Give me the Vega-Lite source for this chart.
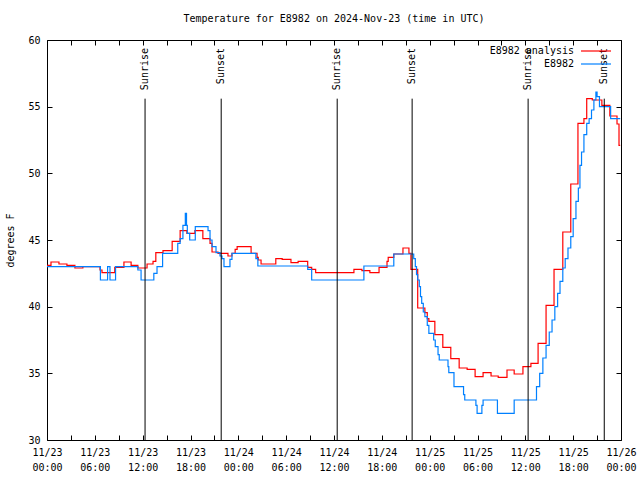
{
  "$schema": "https://vega.github.io/schema/vega-lite/v6.json",
  "width": 574,
  "height": 400,
  "autosize": {"type": "none"},
  "padding": {"left": 47, "top": 40, "right": 19, "bottom": 40},
  "title": {"text": "Temperature for E8982 on 2024-Nov-23 (time in UTC)", "font": "DejaVu Sans Mono", "fontSize": 10, "fontWeight": "normal", "color": "black", "anchor": "middle", "offset": 11},
  "config": {
    "view": {"stroke": "black", "strokeWidth": 1},
    "font": "DejaVu Sans Mono",
    "axis": {"labelFont": "DejaVu Sans Mono", "labelFontSize": 10, "labelColor": "black", "tickColor": "black", "domain": false, "grid": false, "titleFont": "DejaVu Sans Mono", "titleFontSize": 10, "titleFontWeight": "normal", "titleColor": "black"}
  },
  "datasets": {
    "temps": [
      {"s": "E8982 analysis", "h": 0, "t": 43.1},
      {"s": "E8982 analysis", "h": 0.5, "t": 43.35},
      {"s": "E8982 analysis", "h": 1.5, "t": 43.2},
      {"s": "E8982 analysis", "h": 2.5, "t": 43.1},
      {"s": "E8982 analysis", "h": 3.5, "t": 42.9},
      {"s": "E8982 analysis", "h": 4.5, "t": 43.0},
      {"s": "E8982 analysis", "h": 6.65, "t": 42.75},
      {"s": "E8982 analysis", "h": 6.9, "t": 42.55},
      {"s": "E8982 analysis", "h": 8.5, "t": 42.95},
      {"s": "E8982 analysis", "h": 9.65, "t": 43.35},
      {"s": "E8982 analysis", "h": 10.55, "t": 43.1},
      {"s": "E8982 analysis", "h": 11.4, "t": 42.9},
      {"s": "E8982 analysis", "h": 12.55, "t": 43.2},
      {"s": "E8982 analysis", "h": 13.3, "t": 43.4},
      {"s": "E8982 analysis", "h": 13.65, "t": 44.05},
      {"s": "E8982 analysis", "h": 14.55, "t": 44.2},
      {"s": "E8982 analysis", "h": 15.7, "t": 44.9},
      {"s": "E8982 analysis", "h": 16.7, "t": 45.7},
      {"s": "E8982 analysis", "h": 17.55, "t": 45.5},
      {"s": "E8982 analysis", "h": 18.55, "t": 45.7},
      {"s": "E8982 analysis", "h": 19.55, "t": 45.1},
      {"s": "E8982 analysis", "h": 20.45, "t": 44.75},
      {"s": "E8982 analysis", "h": 20.7, "t": 44.1},
      {"s": "E8982 analysis", "h": 21.45, "t": 44.0},
      {"s": "E8982 analysis", "h": 22.7, "t": 43.8},
      {"s": "E8982 analysis", "h": 23.2, "t": 44.0},
      {"s": "E8982 analysis", "h": 23.6, "t": 44.3},
      {"s": "E8982 analysis", "h": 23.85, "t": 44.5},
      {"s": "E8982 analysis", "h": 25.6, "t": 44.0},
      {"s": "E8982 analysis", "h": 26.35, "t": 43.7},
      {"s": "E8982 analysis", "h": 26.5, "t": 43.5},
      {"s": "E8982 analysis", "h": 26.85, "t": 43.2},
      {"s": "E8982 analysis", "h": 28.7, "t": 43.6},
      {"s": "E8982 analysis", "h": 29.5, "t": 43.55},
      {"s": "E8982 analysis", "h": 30.6, "t": 43.3},
      {"s": "E8982 analysis", "h": 31.5, "t": 43.4},
      {"s": "E8982 analysis", "h": 32.7, "t": 42.95},
      {"s": "E8982 analysis", "h": 33.2, "t": 42.8},
      {"s": "E8982 analysis", "h": 33.7, "t": 42.55},
      {"s": "E8982 analysis", "h": 38.5, "t": 42.8},
      {"s": "E8982 analysis", "h": 39.5, "t": 42.7},
      {"s": "E8982 analysis", "h": 40.5, "t": 42.55},
      {"s": "E8982 analysis", "h": 41.65, "t": 42.95},
      {"s": "E8982 analysis", "h": 42.65, "t": 43.4},
      {"s": "E8982 analysis", "h": 42.8, "t": 43.7},
      {"s": "E8982 analysis", "h": 43.5, "t": 43.95},
      {"s": "E8982 analysis", "h": 44.65, "t": 44.4},
      {"s": "E8982 analysis", "h": 45.4, "t": 44.0},
      {"s": "E8982 analysis", "h": 45.65, "t": 42.8},
      {"s": "E8982 analysis", "h": 46.5, "t": 39.9},
      {"s": "E8982 analysis", "h": 47.4, "t": 39.55},
      {"s": "E8982 analysis", "h": 47.7, "t": 39.1},
      {"s": "E8982 analysis", "h": 47.9, "t": 38.9},
      {"s": "E8982 analysis", "h": 48.65, "t": 37.9},
      {"s": "E8982 analysis", "h": 49.65, "t": 36.95},
      {"s": "E8982 analysis", "h": 50.65, "t": 36.1},
      {"s": "E8982 analysis", "h": 51.7, "t": 35.4},
      {"s": "E8982 analysis", "h": 52.7, "t": 35.3},
      {"s": "E8982 analysis", "h": 53.7, "t": 34.75},
      {"s": "E8982 analysis", "h": 54.7, "t": 35.05},
      {"s": "E8982 analysis", "h": 55.7, "t": 34.8},
      {"s": "E8982 analysis", "h": 56.6, "t": 34.7},
      {"s": "E8982 analysis", "h": 57.7, "t": 35.25},
      {"s": "E8982 analysis", "h": 58.6, "t": 34.95},
      {"s": "E8982 analysis", "h": 59.7, "t": 35.5},
      {"s": "E8982 analysis", "h": 60.7, "t": 35.75},
      {"s": "E8982 analysis", "h": 61.6, "t": 37.25},
      {"s": "E8982 analysis", "h": 62.6, "t": 40.1},
      {"s": "E8982 analysis", "h": 63.6, "t": 42.8},
      {"s": "E8982 analysis", "h": 64.7, "t": 45.6},
      {"s": "E8982 analysis", "h": 65.7, "t": 49.2},
      {"s": "E8982 analysis", "h": 66.6, "t": 53.75},
      {"s": "E8982 analysis", "h": 67.35, "t": 54.1},
      {"s": "E8982 analysis", "h": 67.7, "t": 55.6},
      {"s": "E8982 analysis", "h": 68.4, "t": 55.5},
      {"s": "E8982 analysis", "h": 69.6, "t": 55.1},
      {"s": "E8982 analysis", "h": 70.6, "t": 54.3},
      {"s": "E8982 analysis", "h": 71.5, "t": 53.7},
      {"s": "E8982 analysis", "h": 71.75, "t": 52.1},
      {"s": "E8982 analysis", "h": 71.9, "t": 52.1},
      {"s": "E8982", "h": 0, "t": 43.0},
      {"s": "E8982", "h": 6.7, "t": 42.0},
      {"s": "E8982", "h": 7.6, "t": 43.0},
      {"s": "E8982", "h": 7.9, "t": 42.0},
      {"s": "E8982", "h": 8.6, "t": 43.0},
      {"s": "E8982", "h": 11.4, "t": 42.75},
      {"s": "E8982", "h": 11.8, "t": 42.0},
      {"s": "E8982", "h": 13.4, "t": 42.5},
      {"s": "E8982", "h": 13.8, "t": 43.0},
      {"s": "E8982", "h": 14.5, "t": 44.0},
      {"s": "E8982", "h": 16.4, "t": 44.75},
      {"s": "E8982", "h": 16.7, "t": 45.1},
      {"s": "E8982", "h": 17.05, "t": 46.1},
      {"s": "E8982", "h": 17.35, "t": 47.0},
      {"s": "E8982", "h": 17.5, "t": 46.1},
      {"s": "E8982", "h": 17.6, "t": 45.5},
      {"s": "E8982", "h": 17.9, "t": 45.0},
      {"s": "E8982", "h": 18.6, "t": 46.0},
      {"s": "E8982", "h": 20.2, "t": 45.7},
      {"s": "E8982", "h": 20.45, "t": 45.0},
      {"s": "E8982", "h": 20.7, "t": 44.5},
      {"s": "E8982", "h": 21.2, "t": 44.05},
      {"s": "E8982", "h": 21.7, "t": 43.8},
      {"s": "E8982", "h": 21.95, "t": 43.6},
      {"s": "E8982", "h": 22.2, "t": 43.0},
      {"s": "E8982", "h": 22.95, "t": 43.55},
      {"s": "E8982", "h": 23.2, "t": 44.0},
      {"s": "E8982", "h": 26.2, "t": 43.6},
      {"s": "E8982", "h": 26.45, "t": 43.05},
      {"s": "E8982", "h": 32.7, "t": 42.8},
      {"s": "E8982", "h": 33.2, "t": 42.0},
      {"s": "E8982", "h": 39.75, "t": 43.05},
      {"s": "E8982", "h": 43.5, "t": 43.95},
      {"s": "E8982", "h": 46.0, "t": 43.6},
      {"s": "E8982", "h": 46.2, "t": 43.0},
      {"s": "E8982", "h": 46.35, "t": 42.4},
      {"s": "E8982", "h": 46.5, "t": 42.0},
      {"s": "E8982", "h": 46.7, "t": 41.5},
      {"s": "E8982", "h": 46.85, "t": 40.75},
      {"s": "E8982", "h": 47.0, "t": 40.25},
      {"s": "E8982", "h": 47.2, "t": 39.6},
      {"s": "E8982", "h": 47.4, "t": 39.25},
      {"s": "E8982", "h": 47.7, "t": 38.6},
      {"s": "E8982", "h": 47.9, "t": 38.0},
      {"s": "E8982", "h": 48.5, "t": 37.5},
      {"s": "E8982", "h": 48.7, "t": 37.0},
      {"s": "E8982", "h": 49.05, "t": 36.4},
      {"s": "E8982", "h": 49.2, "t": 36.0},
      {"s": "E8982", "h": 50.3, "t": 35.5},
      {"s": "E8982", "h": 50.4, "t": 35.05},
      {"s": "E8982", "h": 51.05, "t": 34.0},
      {"s": "E8982", "h": 52.25, "t": 33.4},
      {"s": "E8982", "h": 52.4, "t": 33.0},
      {"s": "E8982", "h": 53.8, "t": 32.6},
      {"s": "E8982", "h": 53.95, "t": 32.0},
      {"s": "E8982", "h": 54.55, "t": 32.6},
      {"s": "E8982", "h": 54.7, "t": 33.0},
      {"s": "E8982", "h": 56.5, "t": 32.0},
      {"s": "E8982", "h": 58.6, "t": 33.0},
      {"s": "E8982", "h": 61.4, "t": 34.0},
      {"s": "E8982", "h": 61.8, "t": 35.0},
      {"s": "E8982", "h": 62.2, "t": 36.15},
      {"s": "E8982", "h": 62.6, "t": 37.1},
      {"s": "E8982", "h": 63.0, "t": 38.1},
      {"s": "E8982", "h": 63.35, "t": 39.0},
      {"s": "E8982", "h": 63.7, "t": 40.0},
      {"s": "E8982", "h": 64.05, "t": 41.0},
      {"s": "E8982", "h": 64.35, "t": 41.9},
      {"s": "E8982", "h": 64.7, "t": 42.9},
      {"s": "E8982", "h": 65.0, "t": 43.6},
      {"s": "E8982", "h": 65.35, "t": 44.4},
      {"s": "E8982", "h": 65.7, "t": 45.25},
      {"s": "E8982", "h": 66.0, "t": 46.6},
      {"s": "E8982", "h": 66.35, "t": 47.9},
      {"s": "E8982", "h": 66.65, "t": 48.9},
      {"s": "E8982", "h": 66.85, "t": 50.6},
      {"s": "E8982", "h": 67.05, "t": 51.6},
      {"s": "E8982", "h": 67.35, "t": 52.9},
      {"s": "E8982", "h": 67.7, "t": 53.75},
      {"s": "E8982", "h": 68.0, "t": 54.1},
      {"s": "E8982", "h": 68.3, "t": 54.75},
      {"s": "E8982", "h": 68.6, "t": 55.5},
      {"s": "E8982", "h": 68.85, "t": 56.1},
      {"s": "E8982", "h": 69.0, "t": 55.75},
      {"s": "E8982", "h": 69.3, "t": 55.0},
      {"s": "E8982", "h": 70.7, "t": 54.1},
      {"s": "E8982", "h": 71.9, "t": 54.1}
    ],
    "sun": [
      {"h": 12.3, "event": "Sunrise"},
      {"h": 21.85, "event": "Sunset"},
      {"h": 36.4, "event": "Sunrise"},
      {"h": 45.8, "event": "Sunset"},
      {"h": 60.35, "event": "Sunrise"},
      {"h": 69.9, "event": "Sunset"}
    ]
  },
  "layer": [
    {
      "data": {"name": "temps"},
      "mark": {"type": "line", "interpolate": "step-after", "strokeWidth": 1.2},
      "encoding": {
        "x": {"field": "h", "type": "quantitative", "scale": {"domain": [0, 72], "nice": false, "zero": false},
          "axis": {"values": [0,3,6,9,12,15,18,21,24,27,30,33,36,39,42,45,48,51,54,57,60,63,66,69,72], "tickSize": -5, "labelPadding": 12, "labelLineHeight": 15, "labelOverlap": false, "labelFlush": false, "labelBound": false, "title": null,
            "labelExpr": "datum.value % 6 == 0 ? ['11/' + (23 + floor(datum.value / 24)), (datum.value % 24 < 10 ? '0' : '') + (datum.value % 24) + ':00'] : ''"}},
        "y": {"field": "t", "type": "quantitative", "scale": {"domain": [30, 60], "nice": false, "zero": false},
          "axis": {"values": [30,35,40,45,50,55,60], "tickSize": -5, "labelPadding": 12, "title": "degrees F", "titlePadding": 12}},
        "color": {"field": "s", "type": "nominal", "scale": {"domain": ["E8982 analysis", "E8982"], "range": ["#ff0000", "#0080ff"]},
          "legend": {"orient": "none", "legendX": 544, "legendY": 6, "title": null, "symbolType": "M-5,0H5", "symbolSize": 36, "symbolStrokeWidth": 1.2, "symbolFillColor": "transparent", "labelAlign": "right", "labelOffset": -27, "labelFont": "DejaVu Sans Mono", "labelFontSize": 10, "labelColor": "black", "padding": 0, "rowPadding": 3}}
      }
    },
    {
      "data": {"name": "sun"},
      "mark": {"type": "rule", "color": "black", "strokeWidth": 1},
      "encoding": {
        "x": {"field": "h", "type": "quantitative", "axis": {"orient": "top", "values": [0,3,6,9,12,15,18,21,24,27,30,33,36,39,42,45,48,51,54,57,60,63,66,69,72], "tickSize": -5, "labels": false, "title": null}},
        "y": {"datum": 30, "type": "quantitative", "axis": {"orient": "right", "values": [30,35,40,45,50,55,60], "tickSize": -5, "labels": false, "title": null}},
        "y2": {"datum": 55.6}
      }
    },
    {
      "data": {"name": "sun"},
      "mark": {"type": "text", "angle": 270, "align": "right", "baseline": "middle", "dx": -8, "font": "DejaVu Sans Mono", "fontSize": 10, "color": "black"},
      "encoding": {
        "x": {"field": "h", "type": "quantitative", "axis": null},
        "y": {"datum": 60, "type": "quantitative", "axis": null},
        "text": {"field": "event"}
      }
    }
  ],
  "resolve": {"axis": {"x": "independent", "y": "independent"}}
}
